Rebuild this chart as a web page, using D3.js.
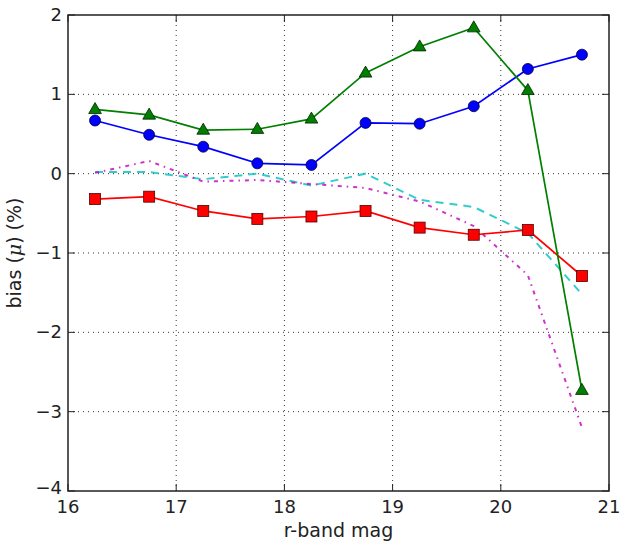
<!DOCTYPE html>
<html lang="en">
<head>
<meta charset="UTF-8">
<title>bias vs r-band mag</title>
<script src="https://d3js.org/d3.v7.min.js"></script>
<style>
  body { margin: 0; background: #fff; }
  text { font-family: "DejaVu Sans", sans-serif; fill: #222; }
</style>
</head>
<body>
<script>
// magnitude bins (centres)
var mags = [16.25, 16.75, 17.25, 17.75, 18.25, 18.75, 19.25, 19.75, 20.25, 20.75];

var blueVals  = [0.67, 0.49, 0.34, 0.13, 0.11, 0.64, 0.63, 0.85, 1.32, 1.50];
var greenVals = [0.81, 0.74, 0.55, 0.56, 0.69, 1.27, 1.60, 1.84, 1.05, -2.73];
var redVals   = [-0.32, -0.29, -0.47, -0.57, -0.54, -0.47, -0.68, -0.77, -0.71, -1.29];
var cyanVals  = [0.02, 0.02, -0.07, 0.0, -0.15, 0.0, -0.33, -0.42, -0.75, -1.52];
var magentaVals = [0.01, 0.16, -0.10, -0.08, -0.13, -0.18, -0.35, -0.66, -1.28, -3.20];

var xTicks = [16, 17, 18, 19, 20, 21];
var yTicks = [-4, -3, -2, -1, 0, 1, 2];

var width = 624, height = 548;
var margin = {left: 68, right: 15, top: 15, bottom: 57};

var svg = d3.select("body").append("svg")
    .attr("width", width)
    .attr("height", height);

var x = d3.scaleLinear().domain([16, 21]).range([margin.left, width - margin.right]);
var y = d3.scaleLinear().domain([-4, 2]).range([height - margin.bottom, margin.top]);

// grid
var grid = svg.append("g");
grid.selectAll(".gx")
    .data(xTicks.slice(1, -1))
    .enter().append("line")
    .attr("x1", d => x(d)).attr("x2", d => x(d))
    .attr("y1", y(-4)).attr("y2", y(2))
    .attr("stroke", "#333").attr("stroke-width", 1)
    .attr("stroke-dasharray", "1,4");
grid.selectAll(".gy")
    .data(yTicks.slice(1, -1))
    .enter().append("line")
    .attr("x1", x(16)).attr("x2", x(21))
    .attr("y1", d => y(d)).attr("y2", d => y(d))
    .attr("stroke", "#333").attr("stroke-width", 1)
    .attr("stroke-dasharray", "1,4");

function pts(vals) {
    return mags.map((m, i) => [m, vals[i]]);
}
var line = d3.line().x(d => x(d[0])).y(d => y(d[1]));

// dashed curves
svg.append("path")
    .datum(pts(cyanVals))
    .attr("d", line)
    .attr("fill", "none")
    .attr("stroke", "#00bfbf")
    .attr("stroke-opacity", 0.8)
    .attr("stroke-width", 2)
    .attr("stroke-dasharray", "8,6");
svg.append("path")
    .datum(pts(magentaVals))
    .attr("d", line)
    .attr("fill", "none")
    .attr("stroke", "#bf00bf")
    .attr("stroke-opacity", 0.8)
    .attr("stroke-width", 2)
    .attr("stroke-dasharray", "4,5,1.5,5");

// solid series with markers
var series = [
    {vals: redVals, color: "#ff0000", marker: "square"},
    {vals: blueVals, color: "#0000ff", marker: "circle"},
    {vals: greenVals, color: "#007f00", marker: "triangle"}
];

series.forEach(function (s) {
    var data = pts(s.vals);
    svg.append("path")
        .datum(data)
        .attr("d", line)
        .attr("fill", "none")
        .attr("stroke", s.color)
        .attr("stroke-width", 1.7);
    var g = svg.append("g");
    if (s.marker === "circle") {
        g.selectAll("circle").data(data).enter().append("circle")
            .attr("cx", d => x(d[0])).attr("cy", d => y(d[1]))
            .attr("r", 5.5)
            .attr("fill", s.color)
            .attr("stroke", "#000033").attr("stroke-width", 0.8);
    } else if (s.marker === "square") {
        g.selectAll("rect").data(data).enter().append("rect")
            .attr("x", d => x(d[0]) - 5.5).attr("y", d => y(d[1]) - 5.5)
            .attr("width", 11).attr("height", 11)
            .attr("fill", s.color)
            .attr("stroke", "#550000").attr("stroke-width", 0.8);
    } else {
        var tri = d3.symbol().type(d3.symbolTriangle).size(70);
        g.selectAll("path").data(data).enter().append("path")
            .attr("d", tri)
            .attr("transform", d => "translate(" + x(d[0]) + "," + (y(d[1]) + 0.5) + ")")
            .attr("fill", s.color)
            .attr("stroke", "#002200").attr("stroke-width", 0.8);
    }
});

// frame
svg.append("rect")
    .attr("x", x(16)).attr("y", y(2))
    .attr("width", x(21) - x(16)).attr("height", y(-4) - y(2))
    .attr("fill", "none").attr("stroke", "#222").attr("stroke-width", 1.5);

// inward ticks on all sides
var tl = 7;
var ticks = svg.append("g").attr("stroke", "#222").attr("stroke-width", 1);
xTicks.forEach(function (t) {
    ticks.append("line").attr("x1", x(t)).attr("x2", x(t)).attr("y1", y(-4)).attr("y2", y(-4) - tl);
    ticks.append("line").attr("x1", x(t)).attr("x2", x(t)).attr("y1", y(2)).attr("y2", y(2) + tl);
});
yTicks.forEach(function (t) {
    ticks.append("line").attr("x1", x(16)).attr("x2", x(16) + tl).attr("y1", y(t)).attr("y2", y(t));
    ticks.append("line").attr("x1", x(21)).attr("x2", x(21) - tl).attr("y1", y(t)).attr("y2", y(t));
});

// tick labels
svg.append("g").selectAll("text")
    .data(xTicks).enter().append("text")
    .attr("x", d => x(d)).attr("y", y(-4) + 22)
    .attr("text-anchor", "middle")
    .style("font-size", "18px")
    .text(d => d);
svg.append("g").selectAll("text")
    .data(yTicks).enter().append("text")
    .attr("x", x(16) - 6)
    .attr("y", d => y(d) + (d === -4 ? 3 : 6))
    .attr("text-anchor", "end")
    .style("font-size", "18px")
    .text(d => d < 0 ? "\u2212" + Math.abs(d) : d);

// axis labels
svg.append("text")
    .attr("x", x(18.5)).attr("y", 537)
    .attr("text-anchor", "middle")
    .style("font-size", "19px")
    .text("r-band mag");

var yl = svg.append("text")
    .attr("transform", "translate(21," + y(-1) + ") rotate(-90)")
    .attr("text-anchor", "middle")
    .style("font-size", "19px");
yl.append("tspan").text("bias (");
yl.append("tspan").style("font-style", "italic").attr("font-family", "DejaVu Serif").text("\u03bc");
yl.append("tspan").text(") (%)");
</script>
</body>
</html>
